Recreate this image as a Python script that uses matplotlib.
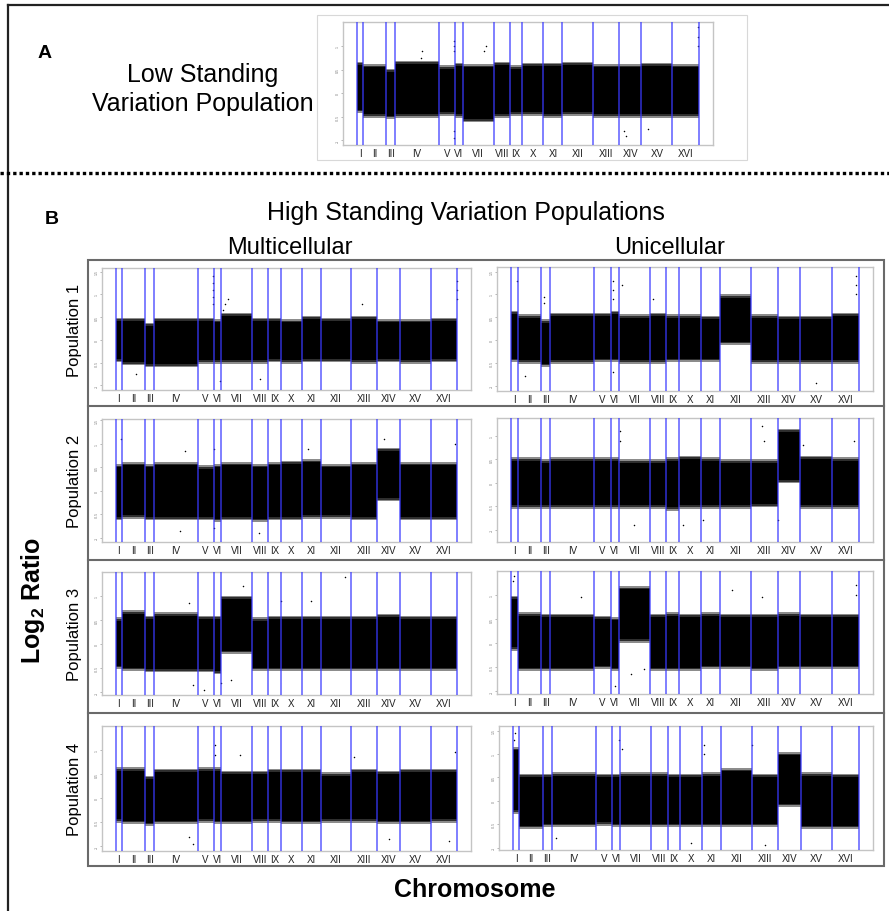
import matplotlib
matplotlib.use("Agg")
import matplotlib.pyplot as plt
from matplotlib.patches import Rectangle
import numpy as np

plt.rcParams["font.family"] = ["Liberation Sans", "DejaVu Sans"]
plt.rcParams["mathtext.fontset"] = "custom"
plt.rcParams["mathtext.rm"] = "Liberation Sans"
plt.rcParams["mathtext.bf"] = "Liberation Sans:bold"

W, H = 889, 912

# ---- data ----
chrom_names = ["I", "II", "III", "IV", "V", "VI", "VII", "VIII",
               "IX", "X", "XI", "XII", "XIII", "XIV", "XV", "XVI"]
chrom_kb = [230, 813, 317, 1532, 577, 270, 1091, 563,
            440, 746, 667, 1078, 924, 784, 1091, 948]

# log2 ratio band per chromosome: upper / lower edge of the dense probe cloud
low_hi = [0.60, 0.55, 0.45, 0.62, 0.52, 0.58, 0.55, 0.60, 0.52, 0.58, 0.58, 0.60, 0.55, 0.55, 0.58, 0.55]
low_lo = [-0.35, -0.45, -0.48, -0.45, -0.41, -0.45, -0.55, -0.45, -0.41, -0.41, -0.45, -0.41, -0.45, -0.45, -0.45, -0.45]

multi1_hi = [0.42, 0.42, 0.31, 0.42, 0.42, 0.39, 0.53, 0.42, 0.42, 0.39, 0.46, 0.42, 0.46, 0.39, 0.39, 0.42]
multi1_lo = [-0.42, -0.49, -0.53, -0.53, -0.45, -0.45, -0.45, -0.45, -0.42, -0.45, -0.42, -0.42, -0.45, -0.42, -0.45, -0.42]
uni1_hi = [0.57, 0.49, 0.38, 0.53, 0.53, 0.57, 0.49, 0.53, 0.49, 0.49, 0.46, 0.93, 0.49, 0.46, 0.46, 0.53]
uni1_lo = [-0.41, -0.45, -0.52, -0.45, -0.41, -0.41, -0.45, -0.45, -0.41, -0.41, -0.41, -0.04, -0.45, -0.45, -0.45, -0.45]

multi2_hi = [0.50, 0.54, 0.50, 0.54, 0.47, 0.50, 0.54, 0.50, 0.54, 0.57, 0.61, 0.50, 0.54, 0.85, 0.54, 0.54]
multi2_lo = [-0.56, -0.52, -0.56, -0.56, -0.56, -0.59, -0.56, -0.59, -0.56, -0.56, -0.52, -0.52, -0.56, -0.15, -0.56, -0.56]
uni2_hi = [0.47, 0.47, 0.43, 0.47, 0.47, 0.47, 0.43, 0.43, 0.47, 0.51, 0.47, 0.43, 0.43, 1.08, 0.51, 0.47]
uni2_lo = [-0.48, -0.48, -0.48, -0.48, -0.48, -0.48, -0.48, -0.48, -0.52, -0.48, -0.48, -0.48, -0.45, 0.06, -0.48, -0.48]

multi3_hi = [0.49, 0.63, 0.52, 0.59, 0.52, 0.52, 0.94, 0.49, 0.52, 0.52, 0.52, 0.52, 0.52, 0.56, 0.52, 0.52]
multi3_lo = [-0.45, -0.49, -0.52, -0.52, -0.52, -0.56, -0.14, -0.49, -0.49, -0.49, -0.49, -0.49, -0.49, -0.49, -0.49, -0.49]
uni3_hi = [0.92, 0.57, 0.54, 0.54, 0.50, 0.47, 1.12, 0.54, 0.57, 0.54, 0.57, 0.54, 0.54, 0.57, 0.54, 0.54]
uni3_lo = [-0.09, -0.51, -0.51, -0.51, -0.47, -0.51, 0.08, -0.51, -0.51, -0.51, -0.47, -0.47, -0.51, -0.47, -0.47, -0.47]

multi4_hi = [0.57, 0.57, 0.40, 0.54, 0.57, 0.57, 0.50, 0.50, 0.54, 0.54, 0.54, 0.47, 0.54, 0.50, 0.54, 0.54]
multi4_lo = [-0.44, -0.47, -0.51, -0.47, -0.44, -0.47, -0.47, -0.44, -0.44, -0.47, -0.47, -0.44, -0.44, -0.47, -0.47, -0.44]
uni4_hi = [1.08, 0.51, 0.51, 0.54, 0.51, 0.51, 0.54, 0.54, 0.51, 0.51, 0.54, 0.63, 0.51, 0.97, 0.54, 0.51]
uni4_lo = [-0.20, -0.53, -0.49, -0.49, -0.46, -0.49, -0.49, -0.49, -0.49, -0.49, -0.49, -0.49, -0.49, -0.06, -0.53, -0.53]

# isolated outlier probes: (chromosome index, position fraction, log2 ratio)
low_pts = [(4, 0.9, 0.9), (4, 0.9, 1.0), (4, 0.9, 1.1), (6, 0.7, 0.9), (6, 0.75, 1.0),
           (3, 0.6, 0.75), (3, 0.62, 0.9), (15, 0.97, 1.0), (15, 0.97, 1.2), (15, 0.97, 1.4),
           (13, 0.2, -0.8), (13, 0.3, -0.9), (14, 0.2, -0.75), (4, 0.9, -0.8), (4, 0.9, -0.95)]
multi1_pts = [(4, 0.95, 0.8), (4, 0.95, 0.95), (4, 0.95, 1.1), (4, 0.95, 1.25), (4, 0.95, 1.4),
              (6, 0.05, 0.65), (6, 0.1, 0.8), (6, 0.2, 0.9), (15, 0.97, 0.9), (15, 0.97, 1.1),
              (15, 0.97, 1.3), (1, 0.6, -0.75), (5, 0.8, -0.9), (7, 0.5, -0.85), (12, 0.4, 0.8)]
uni1_pts = [(5, 0.3, 0.9), (5, 0.3, 1.1), (5, 0.3, 1.3), (6, 0.1, 1.2), (7, 0.2, 0.9),
            (15, 0.9, 1.0), (15, 0.9, 1.2), (15, 0.9, 1.4), (2, 0.3, 0.8), (2, 0.3, 0.95),
            (1, 0.3, -0.8), (14, 0.5, -0.95), (5, 0.3, -0.7), (0, 0.9, 1.3)]
multi2_pts = [(3, 0.7, 0.85), (5, 0.0, 0.9), (10, 0.3, 0.9), (3, 0.6, -0.85), (5, 0.0, -0.8),
              (7, 0.4, -0.9), (13, 0.3, 1.1), (15, 0.9, 1.0), (0, 0.8, 1.1)]
uni2_pts = [(6, 0.05, 0.9), (6, 0.05, 1.1), (12, 0.4, 1.2), (12, 0.5, 0.9), (10, 0.1, -0.8),
            (9, 0.2, -0.9), (6, 0.5, -0.9), (15, 0.8, 0.9), (14, 0.1, 0.8), (13, 0.0, -0.8)]
multi3_pts = [(6, 0.7, 1.2), (11, 0.8, 1.4), (9, 0.0, 0.9), (3, 0.8, 0.85), (3, 0.9, -0.85),
              (5, 0.9, -0.8), (4, 0.4, -0.95), (6, 0.3, -0.75), (10, 0.5, 0.9)]
uni3_pts = [(0, 0.3, 1.3), (0, 0.5, 1.4), (11, 0.4, 1.1), (15, 0.9, 1.0), (15, 0.9, 1.2),
            (5, 0.5, -0.9), (6, 0.4, -0.65), (6, 0.8, -0.55), (3, 0.7, 0.95), (12, 0.4, 0.95)]
multi4_pts = [(5, 0.1, 0.9), (5, 0.2, 1.1), (6, 0.6, 0.9), (15, 0.9, 0.95), (3, 0.8, -0.8),
              (3, 0.9, -0.95), (13, 0.5, -0.85), (15, 0.7, -0.9), (12, 0.1, 0.85)]
uni4_pts = [(0, 0.2, 1.3), (0, 0.3, 1.45), (5, 0.9, 1.3), (6, 0.05, 1.1), (10, 0.1, 1.0),
            (10, 0.1, 1.2), (12, 0.0, 1.2), (3, 0.1, -0.8), (9, 0.5, -0.9), (12, 0.5, -0.95)]

ytick_vals = [-1.0, -0.5, 0.0, 0.5, 1.0, 1.5]

# ---- layout (pixel boxes of the plot frames) ----
panels = [
    ((343, 23, 713, 146), low_hi, low_lo, low_pts, (-1.10, 1.51)),
    ((102, 269, 471, 391), multi1_hi, multi1_lo, multi1_pts, (-1.10, 1.58)),
    ((497, 268, 873, 392), uni1_hi, uni1_lo, uni1_pts, (-1.12, 1.60)),
    ((102, 420, 471, 543), multi2_hi, multi2_lo, multi2_pts, (-1.09, 1.53)),
    ((497, 419, 873, 543), uni2_hi, uni2_lo, uni2_pts, (-1.26, 1.38)),
    ((102, 573, 471, 696), multi3_hi, multi3_lo, multi3_pts, (-1.06, 1.50)),
    ((497, 572, 873, 695), uni3_hi, uni3_lo, uni3_pts, (-1.06, 1.50)),
    ((102, 727, 471, 852), multi4_hi, multi4_lo, multi4_pts, (-1.10, 1.50)),
    ((499, 727, 873, 851), uni4_hi, uni4_lo, uni4_pts, (-1.05, 1.60)),
]

kb = np.array(chrom_kb, dtype=float)
ends = np.cumsum(kb)
starts = ends - kb
total = ends[-1]
mids = (starts + ends) / 2


def fig_rect(x0, y0, x1, y1):
    return [x0 / W, 1 - y1 / H, (x1 - x0) / W, (y1 - y0) / H]


def draw_panel(ax, hi, lo, pts, ylim):
    for s, e, h, l in zip(starts, ends, hi, lo):
        # ragged fringe of the probe cloud, then the solid core
        ax.fill_between([s, e], l - 0.07, h + 0.07, color="0.55", lw=0, zorder=1)
        ax.fill_between([s, e], l - 0.035, h + 0.035, color="0.18", lw=0, zorder=1.5)
        ax.fill_between([s, e], l, h, color="black", lw=0, zorder=2)
    c, f, v = zip(*pts)
    c = list(c)
    ax.scatter(starts[c] + np.array(f) * kb[c], v, s=1.2, c="black", lw=0, zorder=2)
    for b in np.append(starts, total):
        ax.axvline(b, color="#3a3aff", alpha=0.7, lw=1.3, zorder=3)
    ax.set_xlim(-0.04 * total, 1.04 * total)
    ax.set_ylim(*ylim)
    ax.set_xticks(mids)
    ax.set_xticklabels(chrom_names)
    ax.tick_params(axis="x", length=0, pad=2, labelsize=7, labelcolor="#222222")
    yt = [t for t in ytick_vals if ylim[0] < t < ylim[1] - 0.02]
    ax.set_yticks(yt)
    ax.set_yticklabels([f"{t:g}" for t in yt], rotation=90, va="center")
    ax.tick_params(axis="y", length=1.5, width=0.5, color="#999999", pad=1,
                   labelsize=2.5, labelcolor="#777777")
    for sp in ax.spines.values():
        sp.set_color("#c4c4c4")
        sp.set_linewidth(1.0)


fig = plt.figure(figsize=(W / 100, H / 100), dpi=100)

bg = fig.add_axes([0, 0, 1, 1])
bg.set_xlim(0, W)
bg.set_ylim(H, 0)
bg.axis("off")

# outer frame, separator, boxes
bg.plot([8, 8], [H + 5, 6], color="#222222", lw=1.6)
bg.plot([8, W + 5], [6, 6], color="#222222", lw=1.6)
bg.plot([0, W], [174, 174], color="black", lw=2.4, linestyle=(0, (1, 0.9)),
        dash_capstyle="butt")
bg.add_patch(Rectangle((317, 16), 430, 145, fill=False, ec="#d8d8d8", lw=0.8))
bg.add_patch(Rectangle((88, 261), 796, 606, fill=False, ec="#6a6a6a", lw=1.5))
for yy in [407, 561, 714]:
    bg.plot([88, 884], [yy, yy], color="#6a6a6a", lw=1.5)

# titles and labels
bg.text(45, 53, "A", fontsize=14, fontweight="bold", ha="center", va="center")
bg.text(203, 75, "Low Standing", fontsize=18, ha="center", va="center")
bg.text(203, 104, "Variation Population", fontsize=18, ha="center", va="center")
bg.text(52, 220, "B", fontsize=14, fontweight="bold", ha="center", va="center")
bg.text(466, 213, "High Standing Variation Populations", fontsize=18, ha="center", va="center")
bg.text(290, 248, "Multicellular", fontsize=17, ha="center", va="center")
bg.text(670, 248, "Unicellular", fontsize=17, ha="center", va="center")
for k, yc in enumerate([330, 481, 634, 789]):
    bg.text(75, yc, f"Population {k + 1}", fontsize=12, rotation=90,
            ha="center", va="center")
bg.text(33, 600, r"Log$_{\mathbf{2}}$ Ratio", fontsize=18, fontweight="bold",
        rotation=90, ha="center", va="center")
bg.text(475, 890, "Chromosome", fontsize=18, fontweight="bold", ha="center", va="center")

for box, hi, lo, pts, ylim in panels:
    ax = fig.add_axes(fig_rect(*box))
    draw_panel(ax, hi, lo, pts, ylim)

fig.savefig("out.png", dpi=100)
